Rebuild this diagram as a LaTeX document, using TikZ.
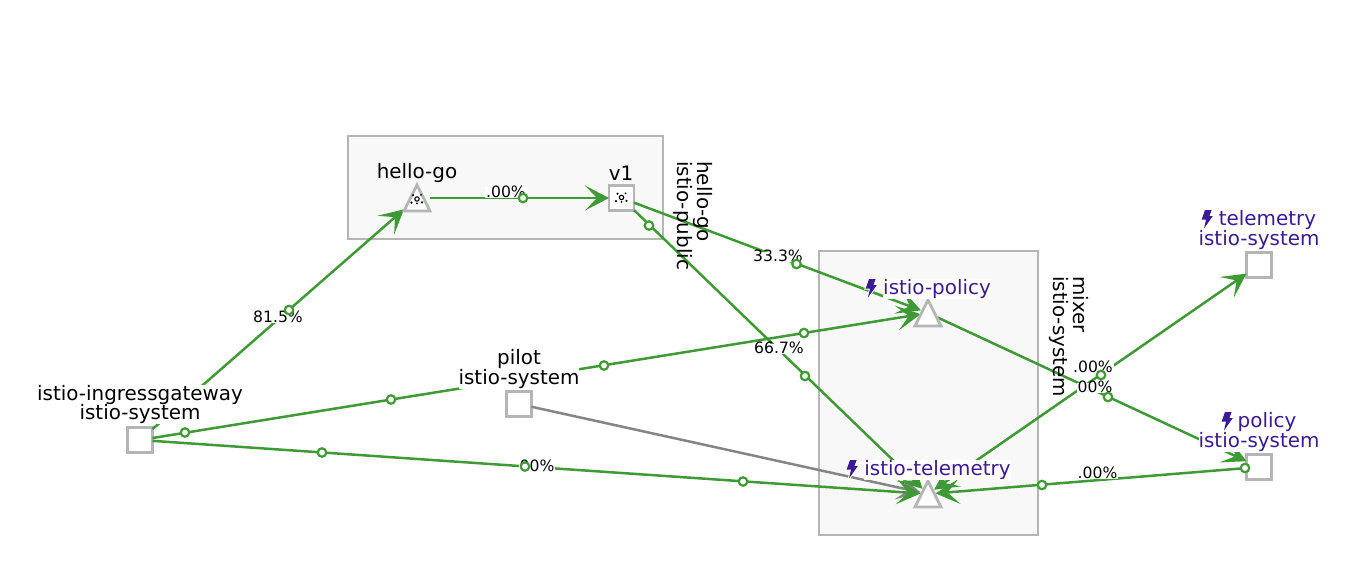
\documentclass[tikz,border=0pt]{standalone}
\usepackage{fontspec}
\setmainfont{DejaVu Sans}
\usetikzlibrary{arrows.meta,calc}
\definecolor{flowgreen}{HTML}{3F9A35}
\definecolor{flowgray}{HTML}{858585}
\definecolor{edgegray}{HTML}{B5B5B5}
\definecolor{boxfill}{HTML}{F8F8F8}
\definecolor{boltpurple}{HTML}{3A1A96}
\tikzset{
  groupbox/.style={draw=edgegray,fill=boxfill,line width=2.8pt},
  svcnode/.style={draw=edgegray,fill=white,line width=2.8pt,minimum size=25pt,inner sep=0pt,outer sep=0pt},
  aimnode/.style={circle,minimum size=15pt,inner sep=0pt,outer sep=0pt},
  boxaim/.style={minimum size=26pt,inner sep=0pt,outer sep=0pt},
  tri/.style={draw=edgegray,fill=white,line width=2.8pt,line join=miter},
  vee/.tip={Stealth[length=24pt,width=25pt,inset=12pt]},
  flow/.style={draw=flowgreen,line width=2.5pt,-{vee[flowgreen]}},
  flowtwo/.style={draw=flowgreen,line width=2.5pt,{vee[flowgreen]}-{vee[flowgreen]}},
  flowgrey/.style={draw=flowgray,line width=2.5pt,-{vee[flowgray]}},
  flowdot/.style={circle,draw=flowgreen,fill=white,line width=2.2pt,minimum size=8.5pt,inner sep=0pt},
  lbl/.style={font=\fontsize{19.9}{20}\selectfont,align=center,inner sep=0pt,text=black},
  lblhalo/.style={lbl,fill=white},
  plbl/.style={lblhalo,text=boltpurple},
  pct/.style={font=\fontsize{15.6}{16}\selectfont,inner xsep=1pt,inner ysep=0pt,fill=white,text height=10pt,text depth=0.5pt},
  boltshape/.style={fill=boltpurple,preaction={draw=white,line width=2pt}},
}
\newcommand{\boltat}[2]{%
  \path[boltshape,shift={(#1,#2)}] (-2,-9) -- (4.6,-9) -- (2.4,-3) -- (5.8,-3) -- (-3,9.5) -- (-1,0.6) -- (-5.4,0.6) -- cycle;}
\newcommand{\topoat}[2]{%
  \begin{scope}[shift={(#1,#2)}]
    \draw[black,line width=1.1pt] (0,0) circle (2.2);
    \fill[black] (-4,-3.8) circle (1.2) (4,-4.2) circle (1) (-5.5,3.6) circle (1.2) (5,3.4) circle (1.2) (0,4.4) circle (1);
  \end{scope}}
\begin{document}
\begin{tikzpicture}[x=1pt,y=-1pt]
\useasboundingbox (0,0) rectangle (1355,562);
\fill[white] (0,0) rectangle (1355,562);
% group boxes
\node[groupbox,minimum width=315pt,minimum height=103pt,inner sep=0pt] (boxhello) at (505.5,187.5) {};
\node[groupbox,minimum width=219pt,minimum height=284pt,inner sep=0pt] (boxmixer) at (928.5,393) {};
% service nodes
\node[svcnode] (ingress) at (140,440) {};
\node[svcnode] (pilot) at (519,404) {};
\node[svcnode] (v1) at (621.5,198) {};
\node[svcnode] (telesys) at (1259,265) {};
\node[svcnode] (policysys) at (1259,467) {};
% triangular nodes: invisible aim shape, triangle drawn on top
\node[boxaim] (hellogo) at (417,198) {};
\node[aimnode] (policy) at (928,313) {};
\node[aimnode] (telemetry) at (928,494) {};
% connectors
\draw[flowgrey] (pilot) -- (telemetry);
\draw[flow] (ingress) -- (hellogo);
\draw[flow] (hellogo) -- (v1);
\draw[flow] (v1) -- (policy);
\draw[flow] (v1) -- (telemetry);
\draw[flow] (ingress) -- (policy);
\draw[flow] (ingress) -- (telemetry);
\draw[flow,shorten <=3pt] (policy) -- (policysys);
\draw[flowtwo] (telemetry) -- (telesys);
\draw[flow] (policysys) -- (telemetry);
% triangles
\draw[tri] (417,185) -- (430,211) -- (404,211) -- cycle;
\draw[tri] (928,300) -- (941,326) -- (915,326) -- cycle;
\draw[tri] (928,481) -- (941,507) -- (915,507) -- cycle;
\topoat{417}{199}
\topoat{621.5}{197.5}
% rotated group labels
\node[lbl,rotate=-90,anchor=north west,align=left] (lgrp1) at (713,161) {hello-go\\istio-public};
\node[lbl,rotate=-90,anchor=north west,align=left] (lgrp2) at (1089,276) {mixer\\istio-system};
% percentages
\node[pct] (p1) at (278,318) {81.5\%};
\node[pct] (p2) at (506,192.5) {.00\%};
\node[pct] (p3) at (778,257) {33.3\%};
\node[pct] (p4) at (779,349) {66.7\%};
\node[pct] (p5) at (537,467) {00\%};
\node[pct] (p6) at (1093,368) {.00\%};
\node[pct] (p7) at (1095,388) {00\%};
\node[pct] (p8) at (1097.5,474) {.00\%};
% traffic dots
\node[flowdot] (d1) at (289,310) {};
\node[flowdot] (d2) at (523,198) {};
\node[flowdot] (d3) at (796.5,264) {};
\node[flowdot] (d4) at (649,225.5) {};
\node[flowdot] (d5) at (805,376) {};
\node[flowdot] (d6) at (185,432.5) {};
\node[flowdot] (d7) at (391,399.5) {};
\node[flowdot] (d8) at (604,365.5) {};
\node[flowdot] (d9) at (804,333) {};
\node[flowdot] (d10) at (322,452.5) {};
\node[flowdot] (d11) at (525,466.5) {};
\node[flowdot] (d12) at (743,481.5) {};
\node[flowdot] (d13) at (1101,375) {};
\node[flowdot] (d14) at (1108,397) {};
\node[flowdot] (d15) at (1042,485) {};
\node[flowdot] (d16) at (1245,468) {};
% text labels
\node[lbl] (lhello) at (417,173) {hello-go};
\node[lbl] (lv1) at (621,173) {v1};
\node[lblhalo] (lingress) at (140,395) {istio-ingressgateway};
\node[lblhalo] (lingresstwo) at (140,414.5) {istio-system};
\node[lblhalo] (lpilot) at (519,369) {pilot\\istio-system};
\node[plbl] (lpolicy) at (937,289) {istio-policy};
\node[plbl] (ltele) at (937.5,470) {istio-telemetry};
\node[plbl] (ltelesys) at (1259,230) {\hspace*{17pt}telemetry\\istio-system};
\node[plbl] (lpolsys) at (1259,432) {\hspace*{16pt}policy\\istio-system};
\boltat{871}{288}
\boltat{852}{469}
\boltat{1207}{219}
\boltat{1227}{421}
\end{tikzpicture}
\end{document}
